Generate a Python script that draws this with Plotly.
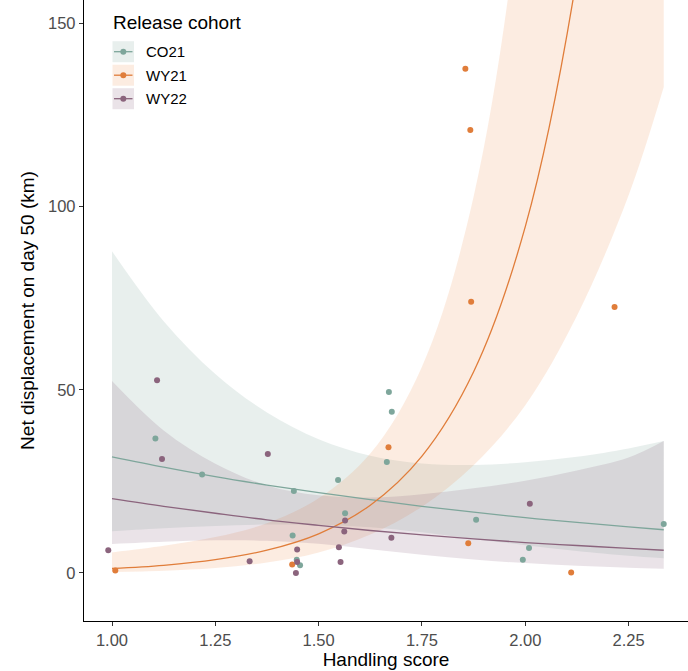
import plotly.graph_objects as go

# ---------------- data ----------------
cohorts = ["CO21", "WY21", "WY22"]

co21_x = [1.105, 1.218, 1.440, 1.437, 1.447, 1.455, 1.547, 1.564, 1.665, 1.670, 1.677, 1.881, 1.994, 2.009, 2.335]
co21_y = [36.7, 26.9, 22.4, 10.2, 3.6, 2.1, 25.4, 16.3, 30.3, 49.4, 44.0, 14.5, 3.6, 6.8, 13.4]

wy21_x = [1.008, 1.436, 1.669, 1.855, 1.867, 1.869, 1.862, 2.111, 2.216]
wy21_y = [0.7, 2.3, 34.3, 137.6, 120.9, 74.0, 8.1, 0.1, 72.6]

wy22_x = [0.991, 1.109, 1.121, 1.333, 1.377, 1.448, 1.448, 1.445, 1.564, 1.562, 1.549, 1.553, 1.676, 2.011]
wy22_y = [6.2, 52.6, 31.1, 3.2, 32.5, 6.4, 3.0, 0.0, 14.3, 11.3, 7.0, 3.0, 9.6, 18.9]

fit_x = [1.0, 1.125, 1.25, 1.375, 1.5, 1.625, 1.75, 1.875, 2.0, 2.125, 2.25, 2.335]
co21_fit = [31.7, 28.9, 26.3, 24.0, 21.9, 20.0, 18.2, 16.6, 15.1, 13.8, 12.6, 11.8]
co21_lo = [11.4, 12.2, 12.8, 13.2, 13.1, 12.5, 11.1, 9.3, 7.6, 6.0, 4.7, 4.0]
co21_hi = [87.8, 68.7, 54.3, 43.8, 36.5, 32.0, 29.9, 29.5, 30.2, 31.7, 34.0, 36.0]

wy21_fit = [1.22, 2.10, 3.62, 6.23, 10.7, 18.5, 31.9, 54.9, 94.5, 162.9, 280.5, 405.8]
wy21_lo = [0.26, 0.60, 1.33, 2.84, 5.6, 10.5, 18.1, 29.4, 45.8, 70.2, 103.1, 132.6]
wy21_hi = [5.6, 7.4, 9.8, 13.6, 20.4, 32.6, 56.3, 102.7, 195.0, 378.0, 763.0, 1242.0]

wy22_fit = [20.3, 18.2, 16.3, 14.5, 13.0, 11.6, 10.4, 9.3, 8.3, 7.5, 6.7, 6.2]
wy22_lo = [7.9, 8.5, 8.9, 8.8, 8.0, 6.5, 5.0, 3.7, 2.7, 2.0, 1.45, 1.16]
wy22_hi = [52.4, 38.9, 29.8, 23.9, 21.2, 20.6, 21.5, 23.1, 25.2, 28.0, 31.5, 36.0]

x_ticks = [1.00, 1.25, 1.50, 1.75, 2.00, 2.25]
y_ticks = [0, 50, 100, 150]

# ---------------- styling ----------------
colors = {"CO21": "#7EA69B", "WY21": "#E07D3A", "WY22": "#8B647D"}
fills = {"CO21": "rgba(126,166,155,0.18)", "WY21": "rgba(240,140,80,0.17)", "WY22": "rgba(139,100,125,0.18)"}
FONT = "Liberation Sans, Arial, sans-serif"

W, H = 688, 671
ML, MR, MT, MB = 84, 0, 0, 50
PW, PH = W - ML - MR, H - MT - MB

def pxx(x):
    return (x - ML) / PW

def pxy(y):
    return (H - MB - y) / PH

series = {
    "CO21": (co21_x, co21_y, co21_fit, co21_lo, co21_hi),
    "WY21": (wy21_x, wy21_y, wy21_fit, wy21_lo, wy21_hi),
    "WY22": (wy22_x, wy22_y, wy22_fit, wy22_lo, wy22_hi),
}

fig = go.Figure()

# ribbons
for c in cohorts:
    _, _, fit, lo, hi = series[c]
    fig.add_trace(go.Scatter(x=fit_x, y=lo, mode="lines", line=dict(width=0, shape="spline"),
                             hoverinfo="skip", showlegend=False))
    fig.add_trace(go.Scatter(x=fit_x, y=hi, mode="lines", line=dict(width=0, shape="spline"),
                             fill="tonexty", fillcolor=fills[c], hoverinfo="skip", showlegend=False))

# fitted lines
for c in cohorts:
    _, _, fit, lo, hi = series[c]
    fig.add_trace(go.Scatter(x=fit_x, y=fit, mode="lines",
                             line=dict(color=colors[c], width=1.3, shape="spline"),
                             showlegend=False, name=c))

# points
for c in cohorts:
    xs, ys, _, _, _ = series[c]
    fig.add_trace(go.Scatter(x=xs, y=ys, mode="markers",
                             marker=dict(color=colors[c], size=6, line=dict(width=0)),
                             showlegend=False, name=c))

# manual legend
shapes = []
annotations = [dict(text="Release cohort", x=pxx(110.5), y=pxy(22.5), xref="paper", yref="paper",
                    xanchor="left", yanchor="middle", showarrow=False,
                    font=dict(family=FONT, size=19, color="black"))]
for i, c in enumerate(cohorts):
    cy = 51.7 + 23.5 * i
    shapes.append(dict(type="rect", xref="paper", yref="paper",
                       x0=pxx(112.5), x1=pxx(134), y0=pxy(cy + 10.5), y1=pxy(cy - 10.5),
                       fillcolor=fills[c], line=dict(width=0), layer="above"))
    shapes.append(dict(type="line", xref="paper", yref="paper",
                       x0=pxx(114), x1=pxx(132.5), y0=pxy(cy), y1=pxy(cy),
                       line=dict(color=colors[c], width=1.3), layer="above"))
    shapes.append(dict(type="circle", xref="paper", yref="paper",
                       x0=pxx(120.3), x1=pxx(126.3), y0=pxy(cy + 3), y1=pxy(cy - 3),
                       fillcolor=colors[c], line=dict(width=0), layer="above"))
    annotations.append(dict(text=c, x=pxx(144), y=pxy(cy), xref="paper", yref="paper",
                            xanchor="left", yanchor="middle", showarrow=False,
                            font=dict(family=FONT, size=15, color="black")))

fig.update_layout(
    width=W, height=H,
    margin=dict(l=ML, r=MR, t=MT, b=MB),
    paper_bgcolor="white", plot_bgcolor="white",
    showlegend=False,
    font=dict(family=FONT),
    shapes=shapes, annotations=annotations,
    xaxis=dict(range=[0.93225, 2.3937], tickvals=x_ticks, tickformat=".2f",
               showgrid=False, zeroline=False, showline=True, linecolor="black", linewidth=1.3,
               ticks="outside", ticklen=4, tickwidth=1.1, tickcolor="#333333",
               tickfont=dict(family=FONT, size=16.5, color="#4D4D4D"),
               title=dict(text="Handling score", font=dict(family=FONT, size=19, color="black"), standoff=4),
               automargin=False),
    yaxis=dict(range=[-13.1, 156.35], tickvals=y_ticks,
               showgrid=False, zeroline=False, showline=True, linecolor="black", linewidth=1.3,
               ticks="outside", ticklen=4, tickwidth=1.1, tickcolor="#333333",
               tickfont=dict(family=FONT, size=16.5, color="#4D4D4D"),
               title=dict(text="Net displacement on day 50 (km)", font=dict(family=FONT, size=19, color="black"), standoff=8),
               automargin=False),
)

fig.write_html("out.html")
